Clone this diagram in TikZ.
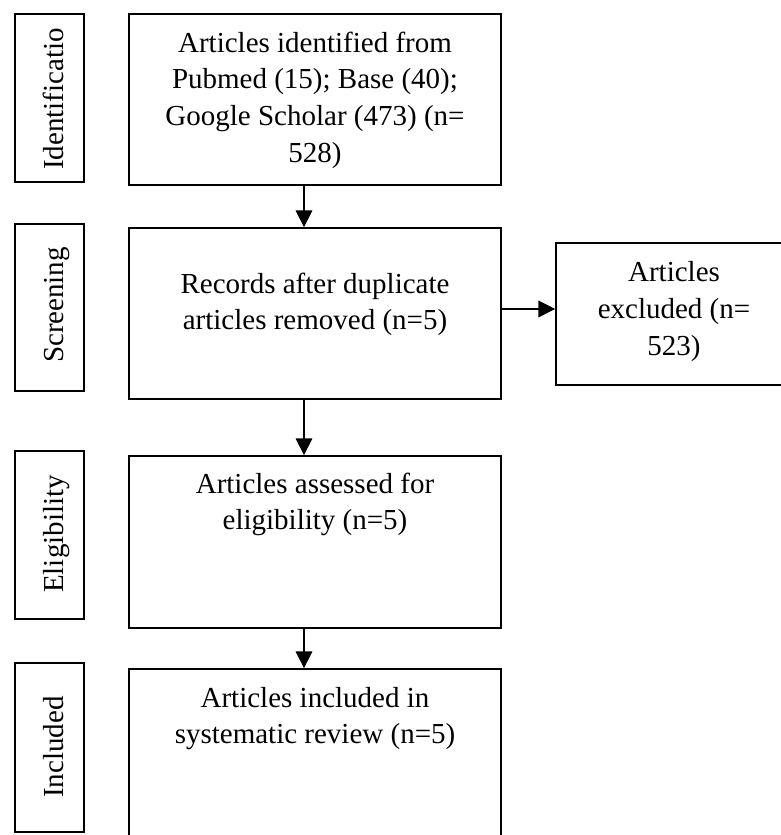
\documentclass[tikz,border=0pt]{standalone}
\usepackage{fontspec}
\setmainfont{Liberation Serif}
\usetikzlibrary{arrows.meta}
\begin{document}
\begin{tikzpicture}[x=0.75pt,y=-0.75pt,
  box/.style={draw, line width=1.3pt, inner sep=0pt},
  lbl/.style={font=\fontsize{21.75pt}{27.5pt}\selectfont, align=center, inner sep=0pt, anchor=base},
  side/.style={font=\fontsize{21.75pt}{27.5pt}\selectfont, inner sep=0pt, anchor=base, rotate=90},
  arr/.style={line width=0.8pt, -{Triangle[length=12.5pt,width=12.5pt]}}]
\useasboundingbox (0,0) rectangle (781,835);
% main boxes
\node[box, minimum width=279pt, minimum height=128.25pt] (b1) at (315,99.5) {};
\node[box, minimum width=279pt, minimum height=128.25pt] (b2) at (315,313.5) {};
\node[box, minimum width=279pt, minimum height=129pt] (b3) at (315,542) {};
\node[box, minimum width=279pt, minimum height=128.25pt] (b4) at (315,754.5) {};
\node[box, minimum width=177pt, minimum height=106.5pt] (ex) at (674,314) {};
% side boxes
\node[box, minimum width=51.75pt, minimum height=126pt] (s1) at (49.5,98) {};
\node[box, minimum width=51.75pt, minimum height=125.25pt] (s2) at (49.5,307.5) {};
\node[box, minimum width=51.75pt, minimum height=126pt] (s3) at (49.5,535) {};
\node[box, minimum width=51.75pt, minimum height=126.75pt] (s4) at (49.5,747.5) {};
% texts (base anchor = baseline of last line)
\node[lbl] (t1) at (315,162) {Articles identified from\\Pubmed (15); Base (40);\\Google Scholar (473) (n=\\528)};
\node[lbl] (t2) at (315,329.7) {Records after duplicate\\articles removed (n=5)};
\node[lbl] (t3) at (315,529.7) {Articles assessed for\\eligibility (n=5)};
\node[lbl] (t4) at (315,743.7) {Articles included in\\systematic review (n=5)};
\node[lbl] (t5) at (674,355.3) {Articles\\excluded (n=\\523)};
\node[side] (l1) at (63,99) {Identificatio};
\node[side] (l2) at (63,305) {Screening};
\node[side] (l3) at (63,534) {Eligibility};
\node[side] (l4) at (63,747) {Included};
% arrows
\draw[arr] ([xshift=-8.25pt]b1.south) -- ([xshift=-8.25pt]b2.north);
\draw[arr] ([xshift=-8.25pt]b2.south) -- ([xshift=-8.25pt]b3.north);
\draw[arr] ([xshift=-8.25pt]b3.south) -- ([xshift=-8.25pt]b4.north);
\draw[arr] ([yshift=3.4pt]b2.east) -- ([yshift=3.4pt]b2.east -| ex.west);
\end{tikzpicture}
\end{document}
